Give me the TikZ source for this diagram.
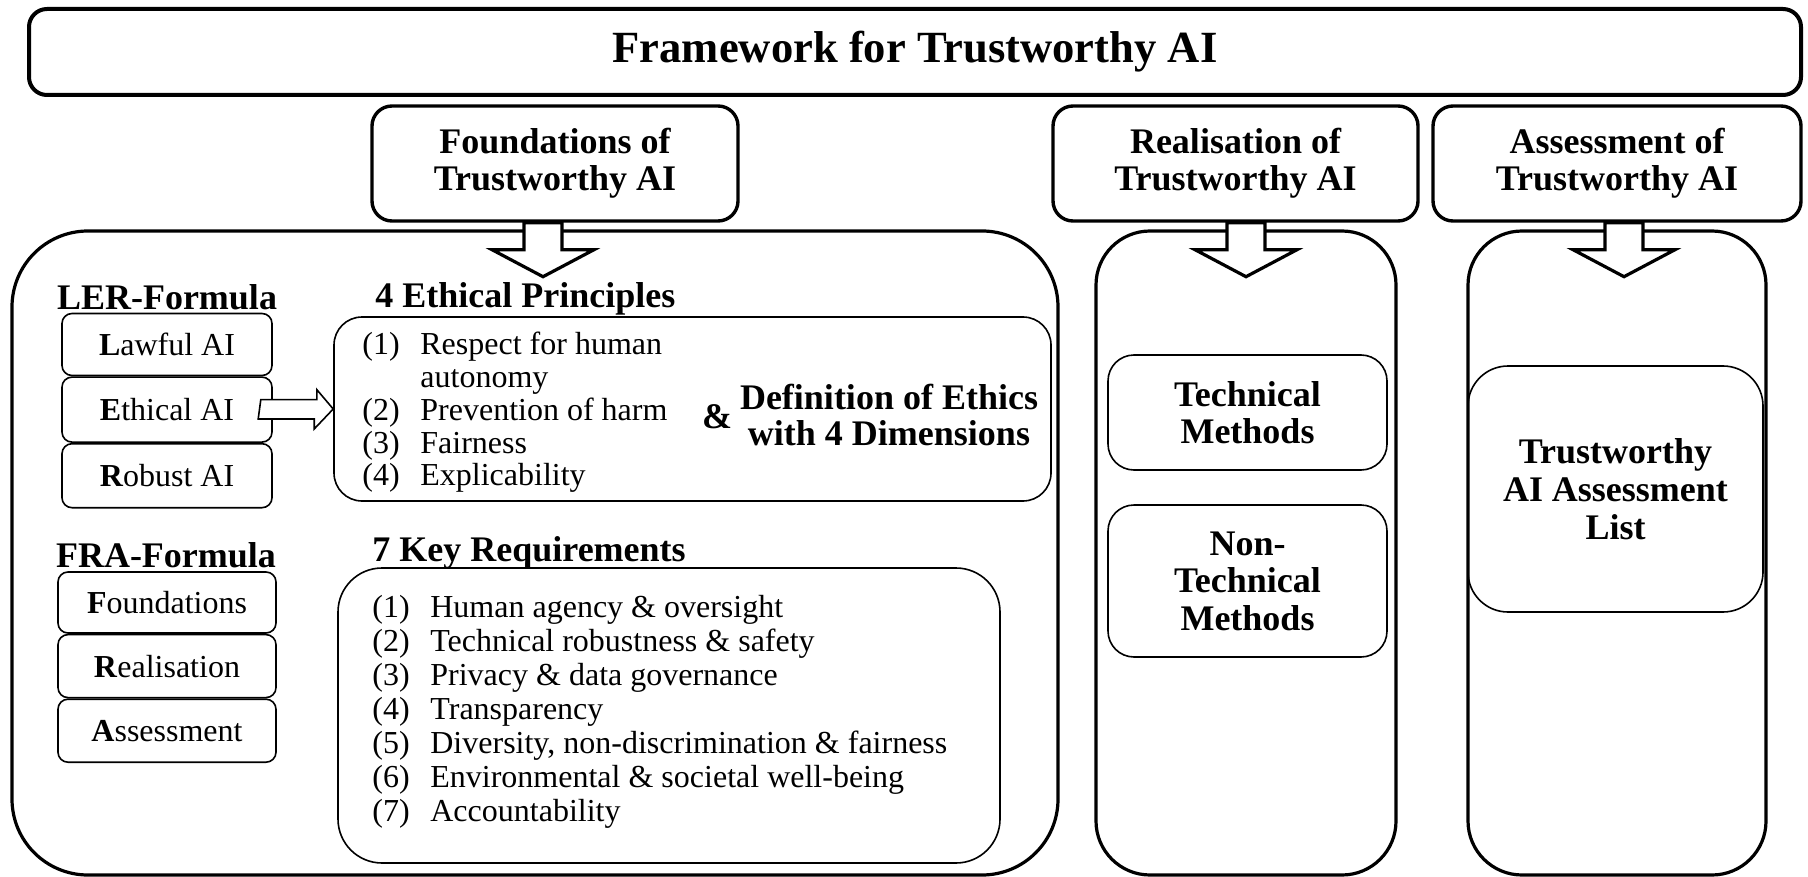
\documentclass[tikz,border=0pt]{standalone}
\usepackage{fontspec}
\setmainfont{Liberation Serif}
\usetikzlibrary{calc,positioning}
\newcommand{\numitem}[1]{\makebox[29pt][l]{(#1)}}
\begin{document}
\begin{tikzpicture}[x=0.5pt,y=-0.5pt,
  headbox/.style={draw,line width=1.7pt,rounded corners=10pt,align=center,inner sep=0pt,minimum height=57.5pt,font=\fontsize{18}{18.5}\selectfont\bfseries},
  panel/.style={draw,line width=1.6pt,inner sep=0pt,minimum height=322pt},
  letterbox/.style={draw,line width=0.8pt,rounded corners=5pt,inner sep=0pt,font=\fontsize{16}{16.7}\selectfont},
  innerbox/.style={draw,line width=0.8pt,inner sep=0pt},
  methodbox/.style={innerbox,align=center,font=\fontsize{18}{18.7}\selectfont\bfseries},
  heading/.style={inner sep=0pt,font=\fontsize{18}{18}\selectfont\bfseries},
  itemlist/.style={inner sep=0pt,align=left,font=\fontsize{16}{16.4}\selectfont},
  blockarrow/.style={draw,line width=1.6pt,fill=white,line join=miter}]
\useasboundingbox (0,0) rectangle (1808,877);

%Shape: Title
\node[draw,line width=2pt,rounded corners=9pt,minimum width=886pt,minimum height=43pt,inner sep=0pt,font=\fontsize{22.3}{26}\selectfont\bfseries] (title) at (915,52) {Framework for Trustworthy AI};

%Shape: Panels
\node[panel,rounded corners=38pt,minimum width=523pt] (fbody) at (535,553) {};
\node[panel,rounded corners=27pt,minimum width=150pt] (rbody) at (1246,553) {};
\node[panel,rounded corners=27pt,minimum width=149pt] (abody) at (1617,553) {};

%Shape: Headers
\node[headbox,minimum width=183pt] (fhead) at (555,163.5) {Foundations of\\Trustworthy AI};
\node[headbox,minimum width=182.5pt] (rhead) at (1235.5,163.5) {Realisation of\\Trustworthy AI};
\node[headbox,minimum width=184pt] (ahead) at (1617,163.5) {Assessment of\\Trustworthy AI};

%Block Arrows
\draw[blockarrow] ($(fhead.south)+(-31,0)$) -- ++(0,27) -- ++(-32,0) -- ++(51,27) -- ++(51,-27) -- ++(-32,0) -- ++(0,-27) -- cycle;
\draw[blockarrow] ($(rhead.south -| rbody.north)+(-19,0)$) -- ++(0,27) -- ++(-32,0) -- ++(51,27) -- ++(51,-27) -- ++(-32,0) -- ++(0,-27) -- cycle;
\draw[blockarrow] ($(ahead.south -| abody.north)+(-12,0)$) -- ++(0,27) -- ++(-32,0) -- ++(51,27) -- ++(51,-27) -- ++(-32,0) -- ++(0,-27) -- cycle;

% LER-Formula
\node[heading] (lerlabel) at (167,297) {LER-Formula};
\node[letterbox,minimum width=105pt,minimum height=31pt] (lawful) at (167,344.5) {\textbf{L}awful AI};
\node[letterbox,minimum width=105pt,minimum height=32.5pt,below=0pt of lawful] (ethical) {\textbf{E}thical AI};
\node[letterbox,minimum width=105pt,minimum height=32pt,below=0pt of ethical] (robust) {\textbf{R}obust AI};

% 4 Ethical Principles
\node[heading,anchor=west] (eplabel) at (375,299) {4 Ethical Principles};
\node[innerbox,rounded corners=14pt,minimum width=358.5pt,minimum height=92pt] (epbox) at (692.5,409) {};
\node[itemlist,anchor=west] (eplist) at (362,412.5) {\numitem{1}Respect for human\\\hspace*{29pt}autonomy\\\numitem{2}Prevention of harm\\\numitem{3}Fairness\\\numitem{4}Explicability};
\node[heading] (amp) at (717,417) {\&};
\node[heading,align=center] (defn) at (889,415) {Definition of Ethics\\with 4 Dimensions};

%Hollow Arrow
\draw[line width=0.8pt,fill=white,line join=miter] (ethical.east) ++(-12,-10) -- ++(56,0) -- ++(0,-10) -- (epbox.west) -- ++(-19,20) -- ++(0,-10) -- ++(-56,0) -- cycle;

% FRA-Formula
\node[heading] (fralabel) at (166,555) {FRA-Formula};
\node[letterbox,minimum width=109pt,minimum height=30.5pt] (found) at (167,602.5) {\textbf{F}oundations};
\node[letterbox,minimum width=109pt,minimum height=31.5pt,below=0pt of found] (real) {\textbf{R}ealisation};
\node[letterbox,minimum width=109pt,minimum height=31.5pt,below=0pt of real] (assess) {\textbf{A}ssessment};

% 7 Key Requirements
\node[heading,anchor=west] (krlabel) at (372,553) {7 Key Requirements};
\node[innerbox,rounded corners=22pt,minimum width=331pt,minimum height=147.5pt] (krbox) at (669,715.5) {};
\node[itemlist,anchor=west,font=\fontsize{16}{17}\selectfont] (krlist) at (372,712) {\numitem{1}Human agency \& oversight\\\numitem{2}Technical robustness \& safety\\\numitem{3}Privacy \& data governance\\\numitem{4}Transparency\\\numitem{5}Diversity, non-discrimination \& fairness\\\numitem{6}Environmental \& societal well-being\\\numitem{7}Accountability};

% Realisation
\node[methodbox,rounded corners=13pt,minimum width=139.5pt,minimum height=57.5pt] (tech) at (1247.5,412.5) {Technical\\Methods};
\node[methodbox,rounded corners=13pt,minimum width=139.5pt,minimum height=76pt] (nontech) at (1247.5,581) {Non-\\Technical\\Methods};

% Assessment
\node[methodbox,rounded corners=20pt,minimum width=147.5pt,minimum height=123pt,font=\fontsize{18}{19}\selectfont\bfseries] (altai) at (1615.5,489) {Trustworthy\\AI Assessment\\List};

\end{tikzpicture}
\end{document}
